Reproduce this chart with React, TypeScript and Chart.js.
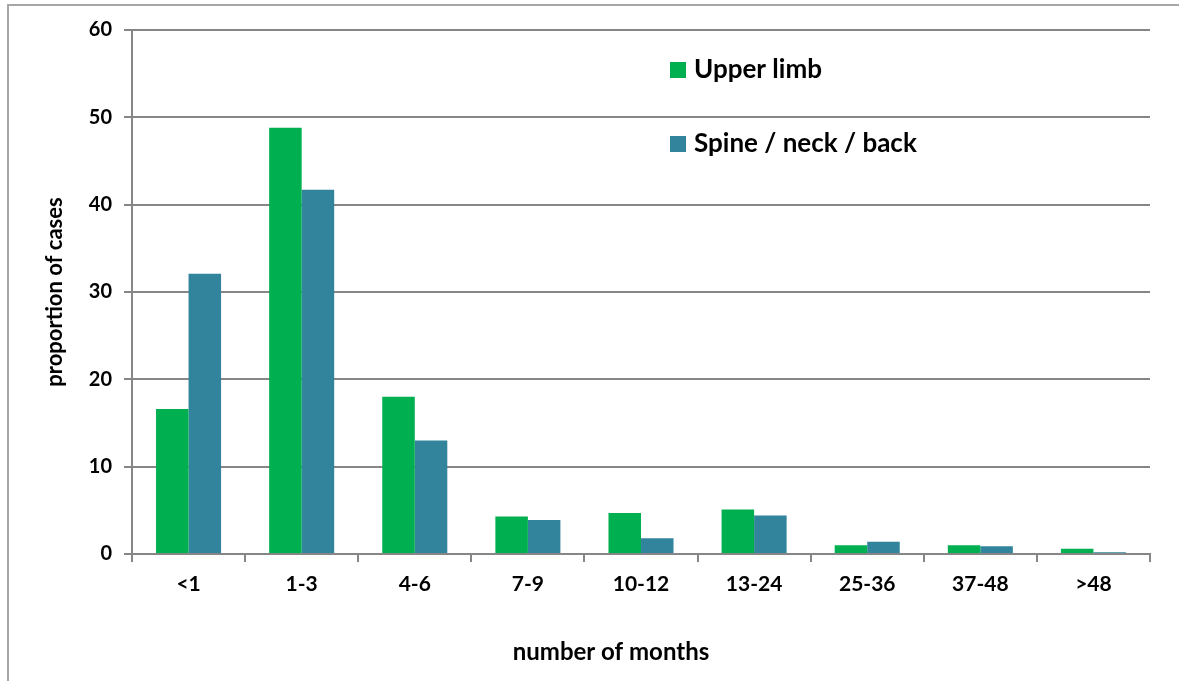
import React, { useEffect, useRef } from "react";
import { Chart, registerables } from "chart.js";

Chart.register(...registerables);

const categories = ["<1", "1-3", "4-6", "7-9", "10-12", "13-24", "25-36", "37-48", ">48"];
const upperLimb = [16.6, 48.8, 18.0, 4.3, 4.7, 5.1, 1.0, 1.0, 0.6];
const spineNeckBack = [32.1, 41.7, 13.0, 3.9, 1.8, 4.4, 1.4, 0.9, 0.2];
const seriesNames = ["Upper limb", "Spine / neck / back"];
const seriesColors = ["#00b050", "#31849b"];
const yMin = 0;
const yMax = 60;
const yStep = 10;
const xTitle = "number of months";
const yTitle = "proportion of cases";

const FONT = "Lato, 'Open Sans', sans-serif";

const legendPlugin = {
  id: "insideLegend",
  afterDraw(chart: any) {
    const { ctx, chartArea } = chart;
    ctx.save();
    const x = chartArea.left + 538;
    const rows = [chartArea.top + 40, chartArea.top + 114];
    chart.data.datasets.forEach((ds: any, i: number) => {
      const cy = rows[i];
      ctx.fillStyle = ds.backgroundColor;
      ctx.fillRect(x, cy - 8, 16, 16);
      ctx.fillStyle = "#000";
      ctx.font = `bold 26px ${FONT}`;
      ctx.textBaseline = "middle";
      ctx.textAlign = "left";
      ctx.fillText(ds.label, x + 24, cy);
    });
    ctx.restore();
  },
};

const xTitlePlugin = {
  id: "xTitle",
  afterDraw(chart: any) {
    const { ctx } = chart;
    ctx.save();
    ctx.fillStyle = "#000";
    ctx.font = `bold 24px ${FONT}`;
    ctx.textAlign = "center";
    ctx.textBaseline = "middle";
    ctx.fillText(xTitle, 611, 652);
    ctx.restore();
  },
};

export default function App() {
  const ref = useRef<HTMLCanvasElement | null>(null);
  useEffect(() => {
    if (!ref.current) return;
    const chart = new Chart(ref.current, {
      type: "bar",
      data: {
        labels: categories,
        datasets: [
          { label: seriesNames[0], data: upperLimb, backgroundColor: seriesColors[0] },
          { label: seriesNames[1], data: spineNeckBack, backgroundColor: seriesColors[1] },
        ],
      },
      options: {
        animation: false,
        responsive: false,
        maintainAspectRatio: false,
        layout: { padding: { left: 0, top: 30, right: 29, bottom: 0 } },
        datasets: { bar: { categoryPercentage: 0.575, barPercentage: 1 } },
        plugins: { legend: { display: false }, tooltip: { enabled: false } },
        scales: {
          x: {
            grid: { offset: true, drawOnChartArea: false, drawTicks: true, tickLength: 8, color: "#868686", lineWidth: 2 },
            border: { display: true, color: "#868686", width: 2 },
            ticks: { color: "#000", font: { family: FONT, size: 21, weight: "bold" }, padding: 10 },
            title: { display: false },
            afterFit(scale: any) { scale.height = 127; },
          },
          y: {
            min: yMin,
            max: yMax,
            ticks: { stepSize: yStep, color: "#000", font: { family: FONT, size: 20, weight: "bold" }, padding: 12 },
            grid: { color: "#868686", lineWidth: 2, tickLength: 8 },
            border: { display: true, color: "#868686", width: 2 },
            title: { display: true, text: yTitle, color: "#000", font: { family: FONT, size: 22, weight: "bold" }, padding: { top: 42, bottom: 0 } },
            afterFit(scale: any) { scale.width = 132; },
          },
        },
      },
      plugins: [legendPlugin, xTitlePlugin],
    });
    return () => chart.destroy();
  }, []);
  return (
    <div style={{ position: "fixed", left: 0, top: 0, width: 1179, height: 681, background: "#fff", overflow: "hidden" }}>
      <div style={{ position: "absolute", left: 7, top: 4, width: 1200, height: 720, border: "2px solid #a6a6a6" }} />
      <canvas ref={ref} width={1179} height={681} style={{ position: "absolute", left: 0, top: 0 }} />
    </div>
  );
}
